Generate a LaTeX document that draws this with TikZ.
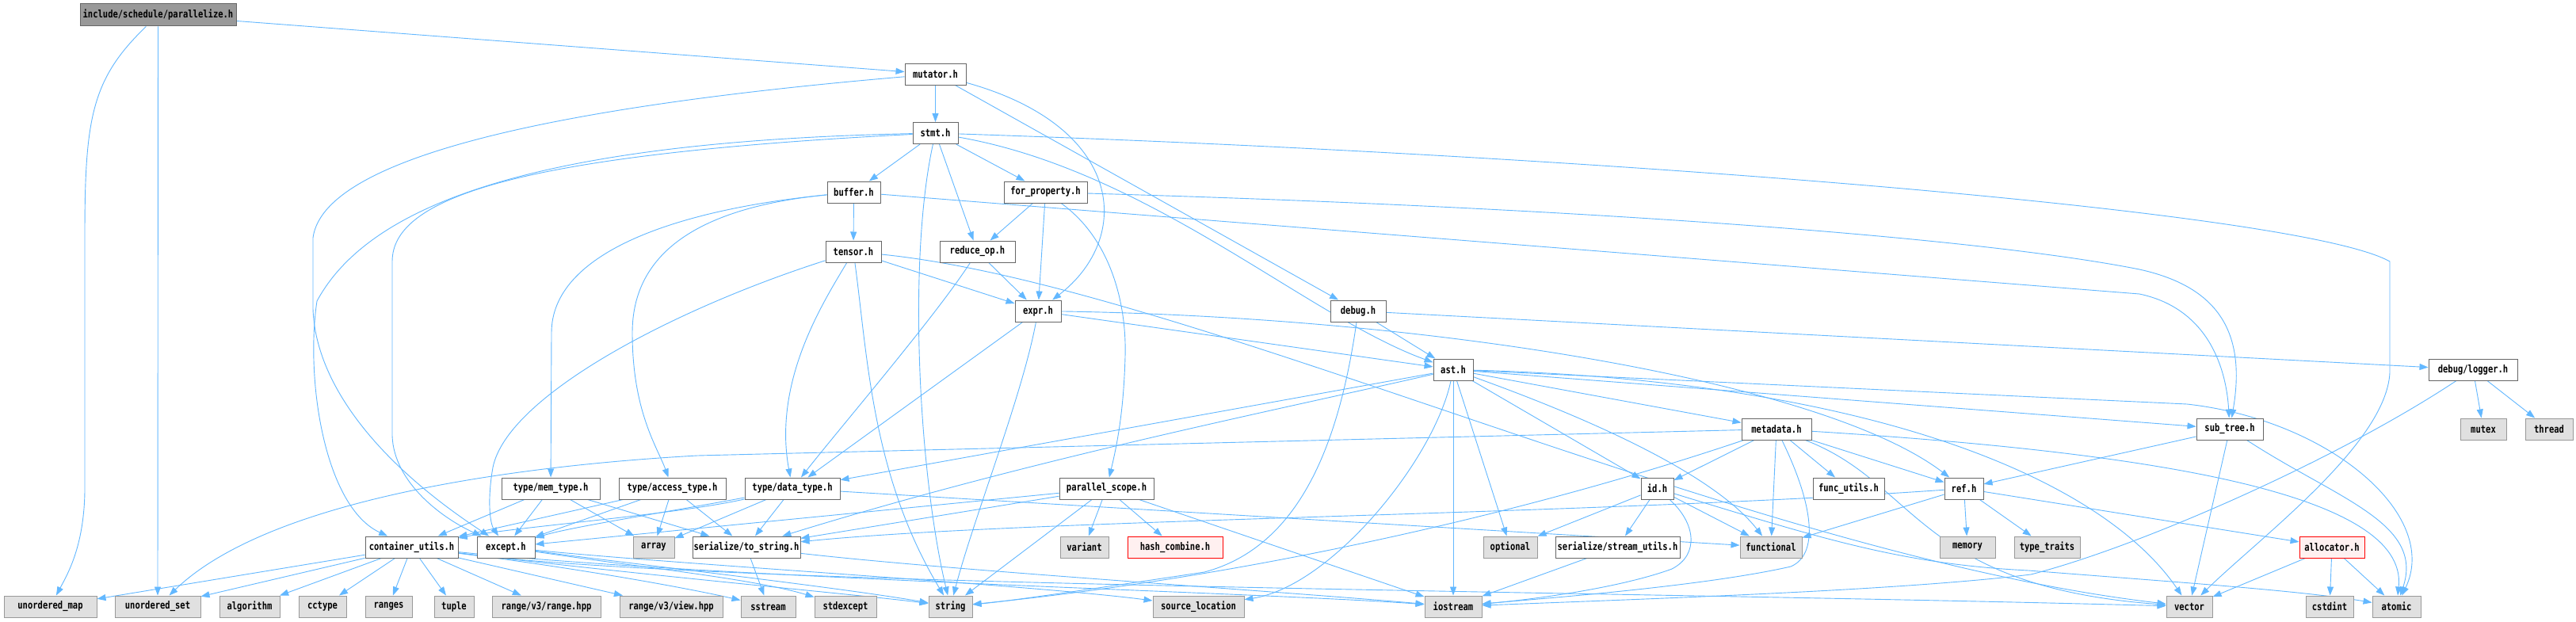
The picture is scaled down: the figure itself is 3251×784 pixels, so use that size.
\documentclass[tikz,border=0pt]{standalone}
\usepackage{fontspec}
\usepackage{graphicx}
\usetikzlibrary{arrows.meta}
\newfontfamily\nf{DejaVu Sans Mono}
\definecolor{edgec}{HTML}{63B8FF}
\definecolor{nbd}{HTML}{666666}
\definecolor{sbd}{HTML}{999999}
\definecolor{sfill}{HTML}{E0E0E0}
\definecolor{rootf}{HTML}{999999}
\definecolor{redf}{HTML}{FFF0F0}
\newcommand{\lb}[1]{\scalebox{1}[1.25]{#1}}
\pgfdeclarelayer{bg}
\pgfdeclarelayer{paper}
\pgfsetlayers{paper,bg,main}
\tikzset{
  box/.style={rectangle, line width=1pt, minimum height=27pt, inner sep=0pt,
    font=\nf\bfseries\fontsize{10.5pt}{12pt}\selectfont, text=black},
  fn/.style={box, draw=nbd, fill=white},
  sn/.style={box, draw=sbd, fill=sfill},
  rn/.style={box, draw=red, fill=redf},
  rootn/.style={box, draw=nbd, fill=rootf, minimum height=28pt},
  e/.style={draw=edgec, line width=0.9pt, -{Triangle[length=11pt,width=8pt]}}
}
\begin{document}
\begin{tikzpicture}[x=1pt,y=-1pt]
\begin{pgfonlayer}{paper}
\fill[white] (0,0) rectangle (3251,784);
\end{pgfonlayer}
\useasboundingbox (0,0) rectangle (3251,784);
% nodes
\node[rootn, minimum width=197pt] (P) at (199.5,19) {\lb{include/schedule/parallelize.h}};
\node[fn, minimum width=77pt] (mut) at (1180.5,93.5) {\lb{mutator.h}};
\node[fn, minimum width=57pt] (stmt) at (1180.5,168) {\lb{stmt.h}};
\node[fn, minimum width=67pt] (buf) at (1077.5,242.5) {\lb{buffer.h}};
\node[fn, minimum width=105pt] (forp) at (1319.5,242.5) {\lb{for\_property.h}};
\node[fn, minimum width=70pt] (tensor) at (1077,317.5) {\lb{tensor.h}};
\node[fn, minimum width=95pt] (redop) at (1233.5,317.5) {\lb{reduce\_op.h}};
\node[fn, minimum width=58pt] (expr) at (1310,392.5) {\lb{expr.h}};
\node[fn, minimum width=70pt] (debug) at (1714,392.5) {\lb{debug.h}};
\node[fn, minimum width=50pt] (ast) at (1834,466.5) {\lb{ast.h}};
\node[fn, minimum width=112pt] (logger) at (3121,466.5) {\lb{debug/logger.h}};
\node[sn, minimum width=58pt] (mutex) at (3134,541.5) {\lb{mutex}};
\node[sn, minimum width=60pt] (thread) at (3217,541.5) {\lb{thread}};
\node[fn, minimum width=84pt] (subtree) at (2814,541.5) {\lb{sub\_tree.h}};
\node[fn, minimum width=88pt] (meta) at (2242,541.5) {\lb{metadata.h}};
\node[fn, minimum width=124pt] (memt) at (695,616.5) {\lb{type/mem\_type.h}};
\node[fn, minimum width=135pt] (acct) at (848.5,616.5) {\lb{type/access\_type.h}};
\node[fn, minimum width=120pt] (datat) at (1000,616.5) {\lb{type/data\_type.h}};
\node[fn, minimum width=119pt] (pscope) at (1396.5,616.5) {\lb{parallel\_scope.h}};
\node[fn, minimum width=41pt] (id) at (2091.5,616.5) {\lb{id.h}};
\node[fn, minimum width=90pt] (futil) at (2333,616.5) {\lb{func\_utils.h}};
\node[fn, minimum width=49pt] (ref) at (2478.5,616.5) {\lb{ref.h}};
\node[fn, minimum width=117pt] (cutil) at (519.5,690.5) {\lb{container\_utils.h}};
\node[fn, minimum width=73pt] (except) at (638.5,690.5) {\lb{except.h}};
\node[sn, minimum width=52pt] (array) at (825,690.5) {\lb{array}};
\node[fn, minimum width=136pt] (tostr) at (942,690.5) {\lb{serialize/to\_string.h}};
\node[sn, minimum width=61pt] (variant) at (1368.5,690.5) {\lb{variant}};
\node[rn, minimum width=120pt] (hash) at (1483,690.5) {\lb{hash\_combine.h}};
\node[sn, minimum width=68pt] (optional) at (1906,690.5) {\lb{optional}};
\node[fn, minimum width=157pt] (sutil) at (2041.5,690.5) {\lb{serialize/stream\_utils.h}};
\node[sn, minimum width=78pt] (functional) at (2235,690.5) {\lb{functional}};
\node[sn, minimum width=70pt] (memory) at (2483,690.5) {\lb{memory}};
\node[sn, minimum width=83pt] (ttraits) at (2583.5,690.5) {\lb{type\_traits}};
\node[rn, minimum width=82pt] (alloc) at (2943,690.5) {\lb{allocator.h}};
\node[sn, minimum width=117pt] (umap) at (63.5,765.5) {\lb{unordered\_map}};
\node[sn, minimum width=108pt] (uset) at (199,765.5) {\lb{unordered\_set}};
\node[sn, minimum width=76pt] (algo) at (315,765.5) {\lb{algorithm}};
\node[sn, minimum width=60pt] (cctype) at (407,765.5) {\lb{cctype}};
\node[sn, minimum width=59pt] (ranges) at (490.5,765.5) {\lb{ranges}};
\node[sn, minimum width=50pt] (tuple) at (573,765.5) {\lb{tuple}};
\node[sn, minimum width=137pt] (rrange) at (689.5,765.5) {\lb{range/v3/range.hpp}};
\node[sn, minimum width=130pt] (rview) at (847,765.5) {\lb{range/v3/view.hpp}};
\node[sn, minimum width=69pt] (sstream) at (969.5,765.5) {\lb{sstream}};
\node[sn, minimum width=78pt] (stdexc) at (1067,765.5) {\lb{stdexcept}};
\node[sn, minimum width=55pt] (string) at (1199.5,765.5) {\lb{string}};
\node[sn, minimum width=115pt] (srcloc) at (1512.5,765.5) {\lb{source\_location}};
\node[sn, minimum width=72pt] (iostream) at (1834,765.5) {\lb{iostream}};
\node[sn, minimum width=58pt] (vector) at (2763,765.5) {\lb{vector}};
\node[sn, minimum width=60pt] (cstdint) at (2940,765.5) {\lb{cstdint}};
\node[sn, minimum width=61pt] (atomic) at (3024.5,765.5) {\lb{atomic}};
% edges
\begin{pgfonlayer}{bg}
% parallelize.h
\draw[e] (P) .. controls (115,100) and (107,150) .. (107,300) -- (107,620) .. controls (106,690) and (85,725) .. (umap);
\draw[e] (P) -- (uset);
\draw[e] (P) -- (mut);
% mutator.h
\draw[e] (mut) -- (stmt);
\draw[e] (mut) .. controls (1420,160) and (1430,300) .. (expr);
\draw[e] (mut) -- (debug);
\draw[e] (mut) .. controls (750,130) and (410,190) .. (395,300) -- (395,390) .. controls (398,480) and (470,580) .. (except);
% stmt.h
\draw[e] (stmt) .. controls (700,178) and (470,250) .. (400,380) .. controls (385,480) and (410,640) .. (cutil);
\draw[e] (stmt) .. controls (650,195) and (495,250) .. (495,330) -- (495,550) .. controls (497,610) and (560,655) .. (except);
\draw[e] (stmt) -- (buf);
\draw[e] (stmt) .. controls (1145,330) and (1160,600) .. (string);
\draw[e] (stmt) -- (redop);
\draw[e] (stmt) -- (forp);
\draw[e] (stmt) .. controls (2000,195) and (2900,265) .. (3016,330) -- (3016,470) .. controls (3012,560) and (2850,680) .. (vector);
\draw[e] (stmt) .. controls (1450,215) and (1650,400) .. (ast);
% buffer.h
\draw[e] (buf) -- (tensor);
\draw[e] (buf) .. controls (850,265) and (696,320) .. (696,420) -- (memt);
\draw[e] (buf) .. controls (880,262) and (798,320) .. (798,420) .. controls (798,520) and (830,565) .. (acct);
\draw[e] (buf) -- (2700,371) .. controls (2790,390) and (2810,470) .. (subtree);
% for_property.h
\draw[e] (forp) -- (redop);
\draw[e] (forp) -- (expr);
\draw[e] (forp) .. controls (1400,300) and (1422,380) .. (1420,450) .. controls (1418,520) and (1410,560) .. (pscope);
\draw[e] (forp) .. controls (2000,262) and (2500,300) .. (2700,340) .. controls (2800,362) and (2835,420) .. (subtree);
% tensor.h
\draw[e] (tensor) .. controls (850,390) and (640,500) .. (622,590) .. controls (615,630) and (618,660) .. (except);
\draw[e] (tensor) -- (expr);
\draw[e] (tensor) .. controls (1040,380) and (975,480) .. (datat);
\draw[e] (tensor) .. controls (1095,450) and (1100,600) .. (string);
\draw[e] (tensor) .. controls (1500,360) and (2200,700) .. (vector);
% reduce_op.h
\draw[e] (redop) -- (expr);
\draw[e] (redop) .. controls (1180,400) and (1060,540) .. (datat);
% expr.h
\draw[e] (expr) -- (datat);
\draw[e] (expr) .. controls (1290,500) and (1230,650) .. (string);
\draw[e] (expr) -- (ast);
\draw[e] (expr) .. controls (1800,400) and (2300,480) .. (ref);
% debug.h
\draw[e] (debug) -- (ast);
\draw[e] (debug) -- (logger);
\draw[e] (debug) .. controls (1690,560) and (1640,690) .. (1520,722) .. controls (1400,740) and (1280,758) .. (string);
% ast.h
\draw[e] (ast) -- (meta);
\draw[e] (ast) -- (id);
\draw[e] (ast) .. controls (2080,555) and (2180,620) .. (functional);
\draw[e] (ast) -- (optional);
\draw[e] (ast) -- (iostream);
\draw[e] (ast) .. controls (1810,580) and (1680,740) .. (srcloc);
\draw[e] (ast) -- (subtree);
\draw[e] (ast) .. controls (2350,480) and (2650,600) .. (vector);
\draw[e] (ast) -- (2760,510) .. controls (2940,530) and (3080,650) .. (atomic);
\draw[e] (ast) -- (datat);
\draw[e] (ast) .. controls (1600,520) and (1300,580) .. (tostr);
% metadata.h
\draw[e] (meta) -- (880,575) .. controls (700,585) and (350,620) .. (uset);
\draw[e] (meta) -- (id);
\draw[e] (meta) -- (functional);
\draw[e] (meta) -- (futil);
\draw[e] (meta) .. controls (2290,640) and (2295,700) .. (2260,715) .. controls (2150,740) and (1950,755) .. (iostream);
\draw[e] (meta) -- (ref);
\draw[e] (meta) .. controls (2700,570) and (3040,620) .. (atomic);
\draw[e] (meta) .. controls (2420,610) and (2420,740) .. (vector);
\draw[e] (meta) .. controls (1950,640) and (1600,725) .. (string);
% type headers
\draw[e] (memt) -- (cutil);
\draw[e] (memt) -- (except);
\draw[e] (memt) -- (array);
\draw[e] (memt) -- (tostr);
\draw[e] (acct) -- (cutil);
\draw[e] (acct) -- (except);
\draw[e] (acct) -- (array);
\draw[e] (acct) -- (tostr);
\draw[e] (datat) .. controls (850,650) and (650,665) .. (cutil);
\draw[e] (datat) .. controls (850,645) and (720,665) .. (except);
\draw[e] (datat) -- (array);
\draw[e] (datat) -- (tostr);
\draw[e] (datat) -- (functional);
% parallel_scope.h
\draw[e] (pscope) -- (variant);
\draw[e] (pscope) -- (hash);
\draw[e] (pscope) -- (string);
\draw[e] (pscope) -- (tostr);
\draw[e] (pscope) -- (except);
\draw[e] (pscope) -- (iostream);
% container_utils.h
\draw[e] (cutil) -- (umap);
\draw[e] (cutil) -- (uset);
\draw[e] (cutil) -- (algo);
\draw[e] (cutil) -- (cctype);
\draw[e] (cutil) -- (ranges);
\draw[e] (cutil) -- (tuple);
\draw[e] (cutil) -- (rrange);
\draw[e] (cutil) -- (rview);
\draw[e] (cutil) .. controls (750,720) and (880,745) .. (sstream);
\draw[e] (cutil) .. controls (800,725) and (1100,752) .. (string);
\draw[e] (cutil) .. controls (900,730) and (1600,748) .. (iostream);
\draw[e] (cutil) .. controls (900,740) and (2000,745) .. (vector);
% except.h
\draw[e] (except) .. controls (800,715) and (950,730) .. (stdexc);
\draw[e] (except) .. controls (800,712) and (1050,740) .. (string);
\draw[e] (except) .. controls (850,712) and (1300,738) .. (srcloc);
% serialize
\draw[e] (tostr) -- (sstream);
\draw[e] (tostr) .. controls (1200,720) and (1600,745) .. (iostream);
\draw[e] (sutil) -- (iostream);
% id.h
\draw[e] (id) -- (optional);
\draw[e] (id) -- (sutil);
\draw[e] (id) -- (functional);
\draw[e] (id) .. controls (2140,660) and (2145,700) .. (2110,718) .. controls (2050,740) and (1950,755) .. (iostream);
\draw[e] (id) .. controls (2300,680) and (2400,712) .. (2560,720) .. controls (2750,735) and (2900,745) .. (atomic);
% ref.h
\draw[e] (ref) -- (memory);
\draw[e] (ref) -- (ttraits);
\draw[e] (ref) -- (alloc);
\draw[e] (ref) -- (functional);
\draw[e] (ref) .. controls (2000,650) and (1300,655) .. (tostr);
% allocator.h, sub_tree.h, logger
\draw[e] (alloc) -- (vector);
\draw[e] (alloc) -- (cstdint);
\draw[e] (alloc) -- (atomic);
\draw[e] (subtree) -- (ref);
\draw[e] (subtree) -- (vector);
\draw[e] (subtree) .. controls (2950,630) and (3060,660) .. (atomic);
\draw[e] (logger) -- (mutex);
\draw[e] (logger) -- (thread);
\draw[e] (logger) .. controls (2950,580) and (2700,690) .. (2563,725) .. controls (2400,745) and (2100,755) .. (iostream);
\end{pgfonlayer}
\end{tikzpicture}
\end{document}
